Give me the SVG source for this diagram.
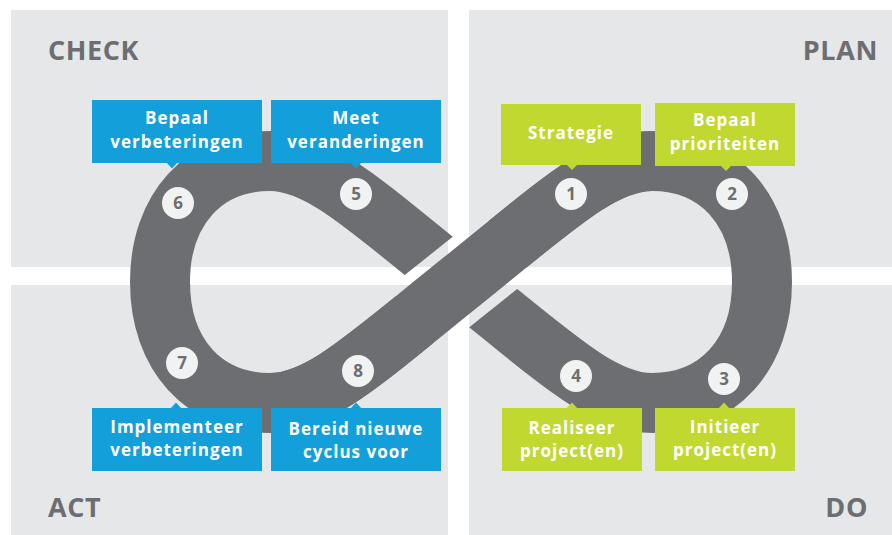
<svg xmlns="http://www.w3.org/2000/svg" width="892" height="535" viewBox="0 0 892 535">
<style>
.panel{fill:#e6e7e8}
.head{font-family:"Open Sans","Liberation Sans",sans-serif;font-weight:700;font-size:27px;fill:#6d6e71;letter-spacing:0.6px}
.blue{fill:#139fd9}
.green{fill:#c1d831}
.lbl{font-family:"Open Sans","Liberation Sans",sans-serif;font-weight:700;font-size:17px;fill:#ffffff;text-anchor:middle;letter-spacing:1px}
.num{fill:#f1f2f2}
.numt{font-family:"Open Sans","Liberation Sans",sans-serif;font-weight:700;font-size:17px;fill:#6d6e71;text-anchor:middle}
.band{fill:none;stroke:#6d6e71;stroke-width:60}
</style>
<defs>
<mask id="cut" maskUnits="userSpaceOnUse" x="0" y="0" width="892" height="535">
<rect x="0" y="0" width="892" height="535" fill="#fff"/>
<path d="M414,319.5 L508,244.5" stroke="#000" stroke-width="81" fill="none"/>
</mask>
</defs>
<rect width="892" height="535" fill="#ffffff"/>
<g id="panels">
<rect class="panel" x="11" y="10" width="437" height="257"/>
<rect class="panel" x="469" y="10" width="423" height="257"/>
<rect class="panel" x="11" y="285" width="437" height="250"/>
<rect class="panel" x="469" y="285" width="423" height="250"/>
<text class="head" x="48" y="60">CHECK</text>
<text class="head" x="878" y="60" text-anchor="end">PLAN</text>
<text class="head" x="48" y="517">ACT</text>
<text class="head" x="868" y="517" text-anchor="end">DO</text>
</g>
<g id="connectors">
<path class="band" mask="url(#cut)" d="M461,282 C554.6,207 602,161 652,161 C718,161 762,209.4 762,282 C762,354.6 718,403 652,403 C602,403 554.6,357 461,282 C367.4,207 320,161 270,161 C204,161 160,209.4 160,282 C160,354.6 204,403 270,403 C320,403 367.4,357 461,282 Z"/>
<path class="band" d="M270,403 C320,403 367.4,357 461,282 C554.6,207 602,161 652,161"/>
</g>
<g id="step6">
<rect class="blue" x="92" y="100" width="170" height="63"/>
<polygon class="blue" points="166,162 178,162 172,168.5"/>
<text class="lbl" x="177" y="124">Bepaal</text>
<text class="lbl" x="177" y="148">verbeteringen</text>
<circle class="num" cx="178" cy="203" r="16"/>
<text class="numt" x="178" y="209">6</text>
</g>
<g id="step5">
<rect class="blue" x="271" y="100" width="170" height="63"/>
<polygon class="blue" points="350,162 362,162 356,168.5"/>
<text class="lbl" x="356" y="124">Meet</text>
<text class="lbl" x="356" y="148">veranderingen</text>
<circle class="num" cx="356" cy="194" r="16"/>
<text class="numt" x="356" y="200">5</text>
</g>
<g id="step1">
<rect class="green" x="501" y="104" width="140" height="61"/>
<polygon class="green" points="566,164 578,164 572,170"/>
<text class="lbl" x="571" y="139">Strategie</text>
<circle class="num" cx="571" cy="194" r="16"/>
<text class="numt" x="571" y="200">1</text>
</g>
<g id="step2">
<rect class="green" x="655" y="103" width="140" height="63"/>
<polygon class="green" points="720,165 732,165 726,171"/>
<text class="lbl" x="725" y="126">Bepaal</text>
<text class="lbl" x="725" y="150">prioriteiten</text>
<circle class="num" cx="732" cy="194" r="16"/>
<text class="numt" x="732" y="200">2</text>
</g>
<g id="step7">
<rect class="blue" x="92" y="408" width="170" height="63"/>
<polygon class="blue" points="170,409 182,409 176,402.5"/>
<text class="lbl" x="177" y="433">Implementeer</text>
<text class="lbl" x="177" y="456">verbeteringen</text>
<circle class="num" cx="182" cy="363" r="16"/>
<text class="numt" x="182" y="369">7</text>
</g>
<g id="step8">
<rect class="blue" x="271" y="408" width="170" height="63"/>
<polygon class="blue" points="350,409 362,409 356,402.5"/>
<text class="lbl" x="356" y="435">Bereid nieuwe</text>
<text class="lbl" x="356" y="458">cyclus voor</text>
<circle class="num" cx="358" cy="371" r="16"/>
<text class="numt" x="358" y="377">8</text>
</g>
<g id="step4">
<rect class="green" x="502" y="408" width="140" height="63"/>
<polygon class="green" points="566,409 578,409 572,402.5"/>
<text class="lbl" x="572" y="434">Realiseer</text>
<text class="lbl" x="572" y="457">project(en)</text>
<circle class="num" cx="576" cy="376" r="16"/>
<text class="numt" x="576" y="382">4</text>
</g>
<g id="step3">
<rect class="green" x="655" y="408" width="140" height="63"/>
<polygon class="green" points="718,409 730,409 724,402.5"/>
<text class="lbl" x="725" y="433">Initieer</text>
<text class="lbl" x="725" y="456">project(en)</text>
<circle class="num" cx="724" cy="379" r="16"/>
<text class="numt" x="724" y="385">3</text>
</g>
</svg>
